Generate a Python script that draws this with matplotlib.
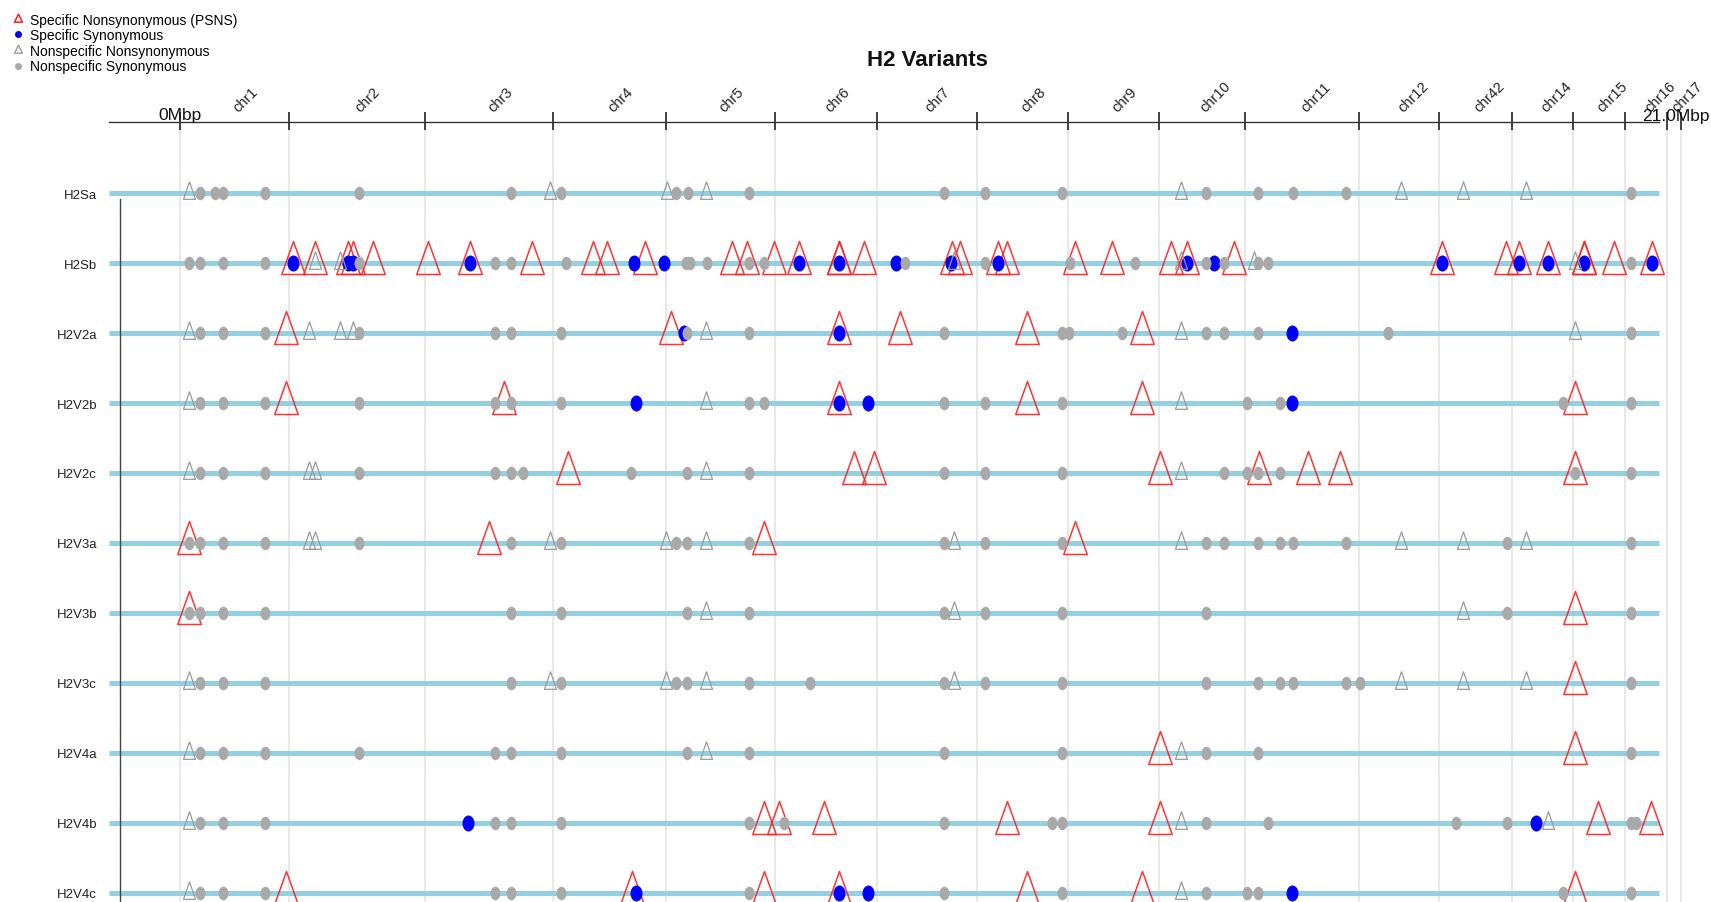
import numpy as np
import matplotlib
matplotlib.use("Agg")
import matplotlib.pyplot as plt
from matplotlib.path import Path
from matplotlib.lines import Line2D

plt.rcParams['font.family'] = ['Liberation Sans', 'DejaVu Sans']

# ---------------- data ----------------
variants = ['H2Sa', 'H2Sb', 'H2V2a', 'H2V2b', 'H2V2c', 'H2V3a', 'H2V3b',
            'H2V3c', 'H2V4a', 'H2V4b', 'H2V4c']

chromosomes = ['chr1', 'chr2', 'chr3', 'chr4', 'chr5', 'chr6', 'chr7', 'chr8',
               'chr9', 'chr10', 'chr11', 'chr12', 'chr42', 'chr14', 'chr15',
               'chr16', 'chr17']
chrom_len_mbp = [1.526, 1.911, 1.783, 1.578, 1.532, 1.431, 1.390, 1.282,
                 1.262, 1.210, 1.595, 1.119, 1.021, 0.849, 0.736, 0.584, 0.191]

# positions (Mbp, concatenated genome) per variant, in the order of `variants`
specific_nonsyn = [
    [],
    [1.58, 1.90, 2.36, 2.42, 2.71, 3.47, 4.06, 4.93, 5.78, 5.98, 6.51, 7.73,
     7.94, 8.31, 8.66, 9.23, 9.23, 9.58, 10.80, 10.92, 11.45, 11.58, 12.53,
     13.04, 13.87, 14.10, 14.75, 17.66, 18.55, 18.74, 19.15, 19.65, 19.65,
     20.07, 20.60],
    [1.49, 6.88, 9.22, 10.08, 11.86, 13.46],
    [1.49, 4.54, 9.22, 11.86, 13.46, 19.52],
    [5.44, 9.44, 9.72, 13.72, 15.10, 15.78, 16.23, 19.52],
    [0.13, 4.33, 8.17, 12.53],
    [0.13, 19.52],
    [19.52],
    [13.72, 19.52],
    [8.17, 8.39, 9.01, 11.58, 13.72, 19.85, 20.58],
    [1.49, 6.33, 8.17, 9.22, 11.86, 13.46, 19.52],
]
specific_syn = [
    [],
    [1.58, 2.36, 2.42, 4.06, 6.36, 6.77, 8.66, 9.23, 10.02, 10.79, 11.45,
     14.10, 14.47, 17.66, 18.74, 19.15, 19.65, 20.60],
    [7.06, 9.22, 15.56],
    [6.39, 9.22, 9.63, 15.56],
    [],
    [],
    [],
    [],
    [],
    [4.04, 18.97],
    [6.39, 9.22, 9.63, 15.56],
]
nonspecific_nonsyn = [
    [0.13, 5.18, 6.82, 7.36, 14.01, 17.09, 17.96, 18.84],
    [1.90, 2.24, 10.84, 14.01, 15.03, 19.52],
    [0.13, 1.81, 2.24, 2.42, 7.36, 14.01, 19.52],
    [0.13, 7.36, 14.01],
    [0.13, 1.81, 1.90, 7.36, 14.01],
    [1.81, 1.90, 5.18, 6.81, 7.36, 10.84, 14.01, 17.09, 17.96, 18.84],
    [7.36, 10.84, 17.96],
    [0.13, 5.18, 6.81, 7.36, 10.84, 17.09, 17.96, 18.84],
    [0.13, 7.36, 14.01],
    [0.13, 14.01, 19.15],
    [0.13, 14.01],
]
nonspecific_syn = [
    [0.28, 0.49, 0.61, 1.20, 2.51, 4.64, 5.34, 6.95, 7.11, 7.97, 10.69, 11.27,
     12.34, 14.36, 15.08, 15.58, 16.32, 20.31],
    [0.13, 0.28, 0.61, 1.20, 2.51, 4.41, 4.64, 5.41, 7.08, 7.14, 7.38, 7.97,
     8.17, 10.15, 11.27, 12.45, 13.36, 14.36, 14.61, 15.08, 15.22, 20.31],
    [0.28, 0.61, 1.20, 2.51, 4.41, 4.64, 5.34, 7.10, 7.97, 10.69, 12.34, 12.44,
     13.18, 14.36, 14.61, 15.08, 16.90, 20.31],
    [0.28, 0.61, 1.20, 2.51, 4.41, 4.64, 5.34, 7.97, 8.17, 10.69, 11.27, 12.34,
     14.93, 15.39, 19.35, 20.31],
    [0.28, 0.61, 1.20, 2.51, 4.41, 4.64, 4.81, 6.32, 7.10, 7.97, 10.69, 11.27,
     12.34, 14.61, 14.93, 15.08, 15.39, 19.52, 20.31],
    [0.13, 0.28, 0.61, 1.20, 2.51, 4.64, 5.34, 6.95, 7.10, 7.97, 10.69, 11.27,
     12.34, 14.36, 14.61, 15.08, 15.39, 15.58, 16.32, 18.57, 20.31],
    [0.13, 0.28, 0.61, 1.20, 4.64, 5.34, 7.10, 7.97, 10.69, 11.27, 12.34,
     14.36, 18.57, 20.31],
    [0.28, 0.61, 1.20, 4.64, 5.34, 6.95, 7.10, 7.97, 8.82, 10.69, 11.27, 12.34,
     14.36, 15.08, 15.39, 15.58, 16.32, 16.51, 20.31],
    [0.28, 0.61, 1.20, 2.51, 4.41, 4.64, 5.34, 7.10, 7.97, 10.69, 12.34, 14.36,
     15.08, 20.31],
    [0.28, 0.61, 1.20, 4.41, 4.64, 5.34, 7.97, 8.45, 10.69, 12.20, 12.34, 14.36,
     15.22, 17.85, 18.57, 20.30, 20.37],
    [0.28, 0.61, 1.20, 4.41, 4.64, 5.34, 7.97, 10.69, 12.34, 14.36, 14.93,
     15.08, 19.35, 20.31],
]

legend_labels = ['Specific Nonsynonymous (PSNS)', 'Specific Synonymous',
                 'Nonspecific Nonsynonymous', 'Nonspecific Synonymous']
title = 'H2 Variants'

# ---------------- layout ----------------
W, H, DPI = 1711, 903, 100
PT = DPI / 72.0
X0_PX, PX_PER_MBP = 179.6, 71.48
ROW0_PX, ROW_PITCH = 194.2, 69.95


def px2x(px):
    return (px - X0_PX) / PX_PER_MBP


def px2y(py):
    return (py - ROW0_PX) / ROW_PITCH


def ellipse_marker(w, h):
    c = Path.unit_circle()
    verts = c.vertices * np.array([w / 2.0, h / 2.0])
    return Path(verts, c.codes), h / PT


def tri_marker(w, h):
    verts = [(0, 2 * h / 3.0), (-w / 2.0, -h / 3.0), (w / 2.0, -h / 3.0), (0, 2 * h / 3.0)]
    codes = [Path.MOVETO, Path.LINETO, Path.LINETO, Path.CLOSEPOLY]
    return Path(verts, codes), 2 * max(2 * h / 3.0, w / 2.0) / PT


RED = '#ff1f1f'
BLUE = '#0000ff'
GREY = '#a9a9a9'
GREY_TRI = '#9a9a9a'
LINE_C = '#93d0e2'

red_m, red_ms = tri_marker(23.5, 33)
tri_m, tri_ms = tri_marker(12, 17.5)
blue_m, blue_ms = ellipse_marker(12, 16)
dot_m, dot_ms = ellipse_marker(10, 13.5)

fig = plt.figure(figsize=(W / DPI, H / DPI), dpi=DPI)
ax = fig.add_axes([120 / W, 0, 1 - 120 / W, 1])
ax.set_xlim(px2x(120), px2x(W))
ax.set_ylim(px2y(H), px2y(0))

# chromosome boundaries
bounds = np.concatenate([[0.0], np.cumsum(chrom_len_mbp)])
mids = (bounds[:-1] + bounds[1:]) / 2.0

ax.vlines(bounds, px2y(128), px2y(H), color='#e6e6e6', lw=1.3, zorder=1)
ax.plot([px2x(109), px2x(1659)], [px2y(123.5)] * 2, color='#333333', lw=1.0,
        clip_on=False, zorder=3)
ax.vlines(bounds, px2y(113), px2y(131), color='#333333', lw=1.3, zorder=3,
          clip_on=False)
label_dx = 6 / PX_PER_MBP
for name, m in zip(chromosomes, mids):
    ax.text(m + label_dx, px2y(115), name, rotation=45, rotation_mode='anchor',
            ha='left', va='bottom', fontsize=10.5, color='#222222')

ax.text(0, px2y(120.5), '0Mbp', ha='center', va='baseline', fontsize=12.5,
        color='#111111', clip_on=False)
fig.text(1710 / W, 1 - 120.5 / H, '%.1fMbp' % bounds[-1], ha='right',
         va='baseline', fontsize=12.5, color='#111111')

# variant tracks
line_start, line_end = px2x(109), px2x(1659)
for i in range(len(variants)):
    ax.plot([line_start, line_end], [i, i], color=LINE_C, lw=3.6,
            solid_capstyle='butt', clip_on=False, zorder=2)
    xs = specific_nonsyn[i]
    if xs:
        ax.plot(xs, [i] * len(xs), ls='none', marker=red_m, ms=red_ms,
                mfc='none', mec=RED, mew=1.1, alpha=0.9, zorder=4, clip_on=False)
    xs = specific_syn[i]
    if xs:
        ax.plot(xs, [i] * len(xs), ls='none', marker=blue_m, ms=blue_ms,
                mfc=BLUE, mec='none', zorder=5, clip_on=False)
    xs = nonspecific_nonsyn[i]
    if xs:
        ax.plot(xs, [i] * len(xs), ls='none', marker=tri_m, ms=tri_ms,
                mfc='none', mec=GREY_TRI, mew=0.9, zorder=6, clip_on=False)
    xs = nonspecific_syn[i]
    if xs:
        ax.plot(xs, [i] * len(xs), ls='none', marker=dot_m, ms=dot_ms,
                mfc=GREY, mec='none', zorder=7, clip_on=False)

# axes styling
ax.set_xticks([])
ax.set_yticks(range(len(variants)))
ax.set_yticklabels(variants, fontsize=9.5, color='#222222')
ax.tick_params(axis='y', length=0, pad=(120 - 97) / PT)
for s in ['top', 'right', 'bottom']:
    ax.spines[s].set_visible(False)
ax.spines['left'].set_bounds(px2y(200), px2y(H))
ax.spines['left'].set_color('#444444')
ax.spines['left'].set_linewidth(1.0)

fig.text(927 / W, 1 - 60 / H, title, ha='center', va='center', fontsize=16,
         fontweight='bold', color='#111111')

# legend
lr_m, lr_ms = tri_marker(8, 8)
lb_m, lb_ms = ellipse_marker(7, 7)
handles = [
    Line2D([], [], ls='none', marker=lr_m, ms=lr_ms, mfc='none', mec=RED, mew=1.1),
    Line2D([], [], ls='none', marker=lb_m, ms=lb_ms, mfc=BLUE, mec='none'),
    Line2D([], [], ls='none', marker=lr_m, ms=lr_ms, mfc='none', mec=GREY_TRI, mew=1.0),
    Line2D([], [], ls='none', marker=lb_m, ms=lb_ms, mfc=GREY, mec='none'),
]
fig.legend(handles, legend_labels, loc='upper left',
           bbox_to_anchor=(11.5 / W, 1 - 13.5 / H), frameon=False, fontsize=10,
           labelspacing=0.12, handlelength=0.9, handletextpad=0.4,
           borderpad=0, borderaxespad=0)

fig.savefig('out.png', dpi=DPI)
